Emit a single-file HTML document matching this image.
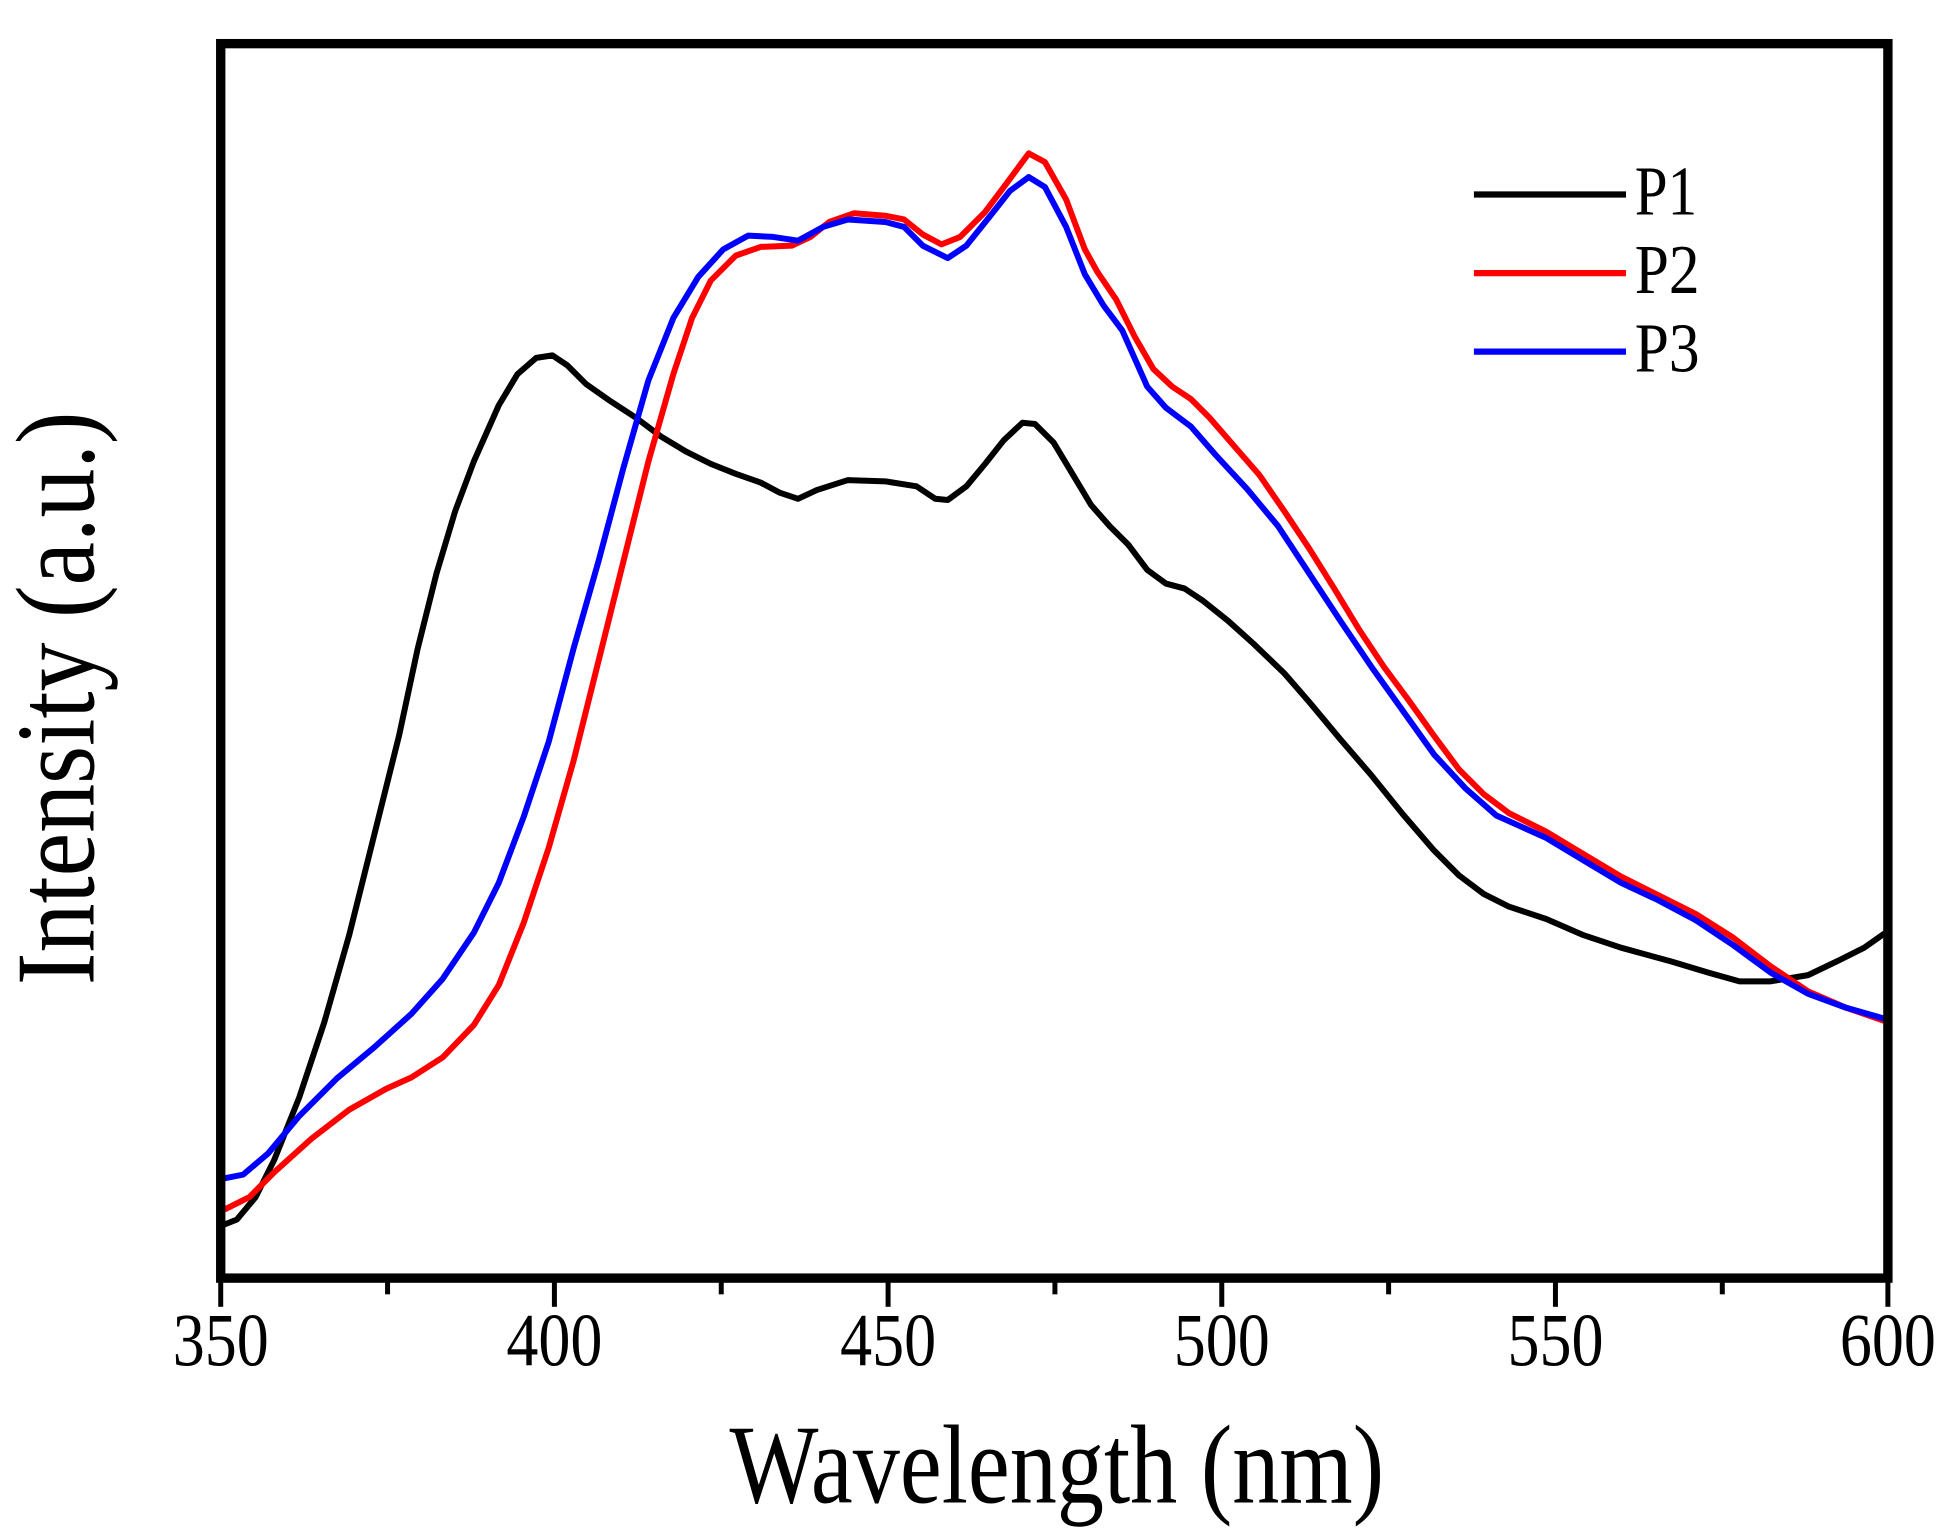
<!DOCTYPE html>
<html><head><style>html,body{margin:0;padding:0;background:#fff}svg{display:block}</style></head>
<body>
<svg width="1949" height="1533" viewBox="0 0 1563 1229.4" xmlns="http://www.w3.org/2000/svg" font-family="'Liberation Serif', serif">
<rect width="1563" height="1229.4" fill="#fff"/>
<g fill="none" stroke-width="4.8" stroke-linejoin="round">
<polyline stroke="#000" points="180,982 190,978 205,960 220,930 240,880 260,820 280,750 300,670 320,590 335,520 350,460 365,410 380,370 400,325 415,300 430,287 443,285 455,293 470,308 490,322 510,335 530,350 550,362 570,372 590,380 610,387 625,395 640,400 655,393 680,385 710,386 735,390 750,400 760,401 775,390 790,372 805,353 820,339 830,340 845,355 860,380 875,405 890,422 905,437 920,457 935,468 950,472 965,482 985,498 1005,516 1030,540 1050,563 1075,593 1100,622 1125,653 1150,682 1170,702 1190,717 1210,727 1240,737 1270,750 1300,760 1340,771 1370,780 1395,787 1420,787 1450,782 1475,770 1495,760 1515,746"/>
<polyline stroke="#f00" points="180,970 200,960 220,940 250,913 280,890 310,873 330,864 355,848 380,822 400,790 420,740 440,680 460,610 480,530 500,450 520,370 540,300 555,255 570,225 590,205 610,198 635,197 650,190 665,178 685,171 710,173 725,176 740,188 755,196 770,190 790,170 805,150 825,123 838,130 855,160 870,200 880,218 895,240 910,270 925,296 940,310 955,320 970,335 990,358 1010,381 1030,410 1050,440 1070,472 1090,505 1110,535 1130,562 1150,590 1170,617 1190,637 1210,652 1240,667 1270,685 1300,703 1330,718 1360,733 1390,752 1420,775 1450,795 1480,808 1515,820"/>
<polyline stroke="#00f" points="180,945 195,942 215,925 240,895 270,865 300,840 330,813 355,785 380,748 400,708 420,655 440,595 460,520 480,450 500,375 520,305 540,255 560,222 580,200 600,189 620,190 640,193 660,182 680,176 710,178 725,182 740,197 760,207 775,197 795,172 810,153 825,142 838,150 855,182 870,220 885,245 900,265 920,310 935,327 955,342 975,365 1000,392 1025,422 1050,460 1075,498 1100,535 1125,570 1150,605 1175,632 1200,654 1240,672 1270,690 1300,708 1330,722 1360,738 1390,758 1420,780 1450,797 1480,808 1515,818"/>
</g>
<rect x="177" y="35" width="1337" height="990" fill="none" stroke="#000" stroke-width="7.5"/>
<g stroke="#000" stroke-width="4">
<line x1="177" y1="1025" x2="177" y2="1048"/><line x1="444.6" y1="1025" x2="444.6" y2="1048"/><line x1="712.2" y1="1025" x2="712.2" y2="1048"/><line x1="979.8" y1="1025" x2="979.8" y2="1048"/><line x1="1247.4" y1="1025" x2="1247.4" y2="1048"/><line x1="1514" y1="1025" x2="1514" y2="1048"/>
<line x1="310.8" y1="1025" x2="310.8" y2="1038"/><line x1="578.4" y1="1025" x2="578.4" y2="1038"/><line x1="846" y1="1025" x2="846" y2="1038"/><line x1="1113.6" y1="1025" x2="1113.6" y2="1038"/><line x1="1381.2" y1="1025" x2="1381.2" y2="1038"/>
</g>
<g font-size="60" text-anchor="middle" fill="#000">
<text x="177" y="1095" textLength="77" lengthAdjust="spacingAndGlyphs">350</text>
<text x="444.6" y="1095" textLength="77" lengthAdjust="spacingAndGlyphs">400</text>
<text x="712.2" y="1095" textLength="77" lengthAdjust="spacingAndGlyphs">450</text>
<text x="979.8" y="1095" textLength="77" lengthAdjust="spacingAndGlyphs">500</text>
<text x="1247.4" y="1095" textLength="77" lengthAdjust="spacingAndGlyphs">550</text>
<text x="1514" y="1095" textLength="77" lengthAdjust="spacingAndGlyphs">600</text>
</g>
<text x="585" y="1205" font-size="90" textLength="525" lengthAdjust="spacingAndGlyphs">Wavelength (nm)</text>
<text transform="translate(75,790) rotate(-90)" font-size="90" textLength="460" lengthAdjust="spacingAndGlyphs">Intensity (a.u.)</text>
<g stroke-width="5">
<line x1="1182" y1="156" x2="1304" y2="156" stroke="#000"/>
<line x1="1182" y1="219" x2="1304" y2="219" stroke="#f00"/>
<line x1="1182" y1="282" x2="1304" y2="282" stroke="#00f"/>
</g>
<g font-size="56" fill="#000">
<text x="1311" y="172" textLength="50" lengthAdjust="spacingAndGlyphs">P1</text>
<text x="1311" y="235" textLength="52" lengthAdjust="spacingAndGlyphs">P2</text>
<text x="1311" y="298" textLength="52" lengthAdjust="spacingAndGlyphs">P3</text>
</g>
</svg>
</body></html>
